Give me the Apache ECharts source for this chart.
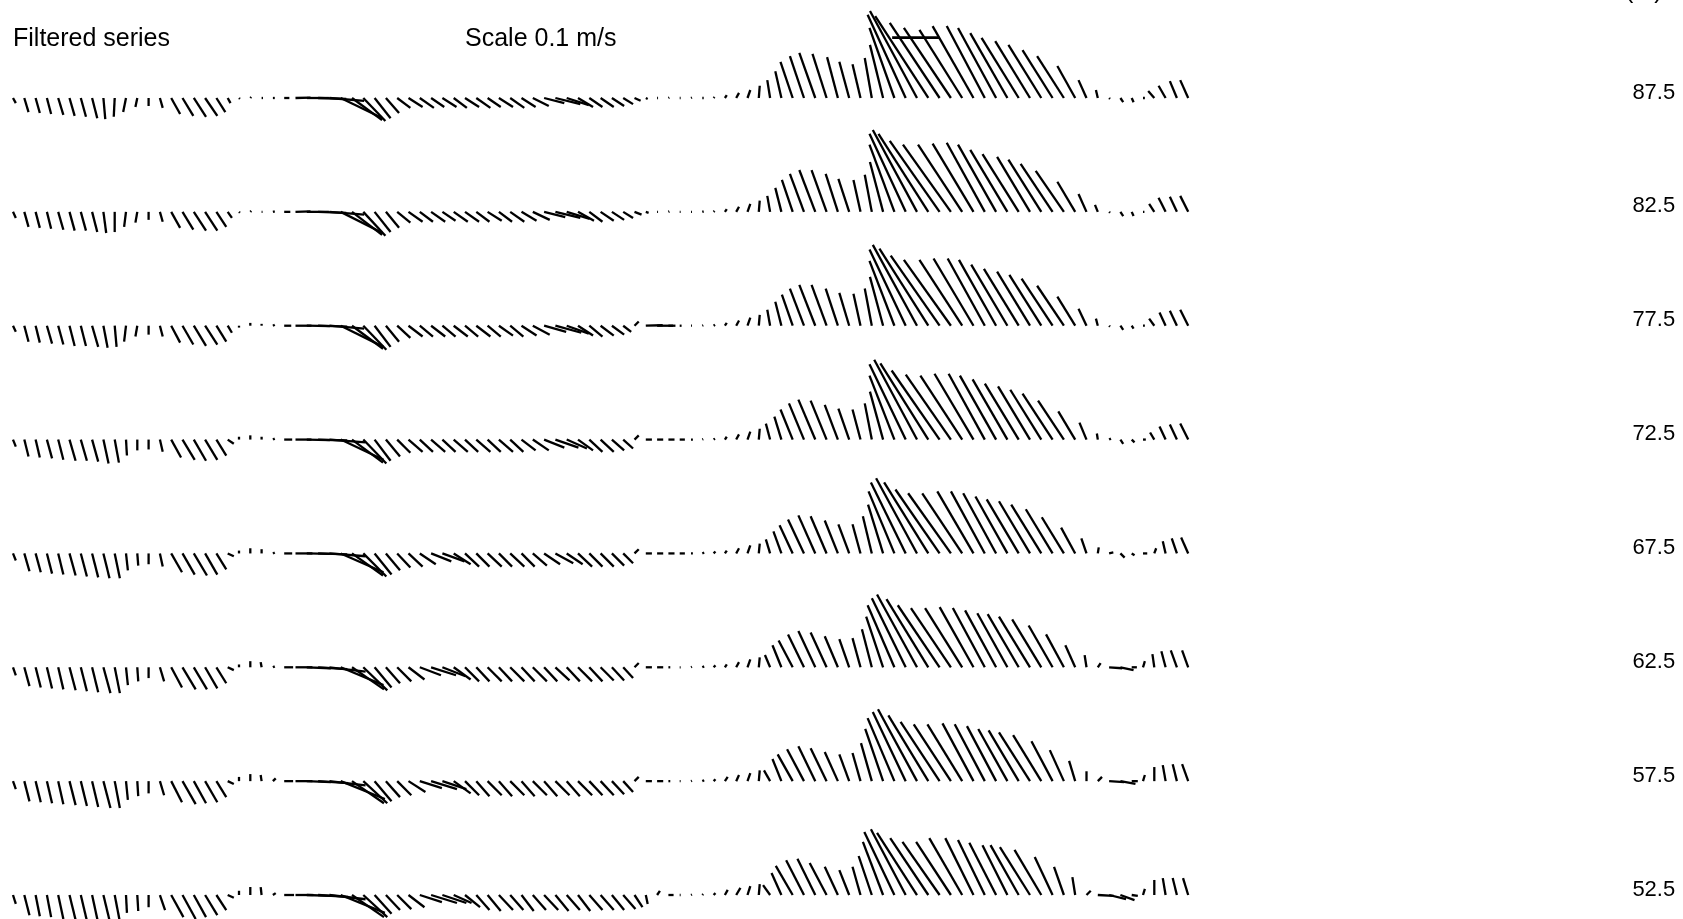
<!DOCTYPE html>
<html>
<head>
<meta charset="utf-8">
<script src="https://cdn.jsdelivr.net/npm/echarts@6/dist/echarts.min.js"></script>
<style>html,body{margin:0;padding:0;background:#fff}#c{width:1683px;height:919px}</style>
</head>
<body>
<div id="c"></div>
<script>
// Depth of each row (m) - tick labels on the right
const depthLabels = [87.5, 82.5, 77.5, 72.5, 67.5, 62.5, 57.5, 52.5];

// Filtered velocity vectors per depth: [east, north] in cm/s, one per sample
const vel875 = [
[0.6,-1.1],[0.9,-3.0],[0.9,-3.2],[0.9,-3.4],[1.1,-3.6],[1.1,-3.8],[1.1,-4.0],[1.1,-4.3],[0.4,-4.5],[-0.2,-4.0],
[-0.6,-3.0],[-0.4,-1.9],[0.0,-1.7],[0.6,-2.1],[1.9,-3.4],[2.3,-3.8],[2.6,-4.0],[2.6,-3.8],[1.9,-3.0],[0.6,-1.1],
[0.2,-0.2],[0.2,0.2],[0.3,0.0],[0.4,0.0],[1.1,0.0],[3.2,0.1],[4.7,0.0],[6.0,-0.2],[7.4,-0.6],[8.9,-4.3],
[6.4,-4.7],[4.7,-4.9],[3.4,-4.3],[2.8,-3.2],[2.8,-2.1],[3.0,-1.9],[3.0,-2.1],[2.8,-1.9],[3.0,-1.9],[2.8,-2.1],
[3.0,-1.9],[3.0,-2.1],[2.8,-1.9],[3.0,-1.9],[3.0,-2.1],[3.0,-1.9],[3.4,-1.7],[4.3,-1.1],[5.3,-1.3],[4.7,-1.5],
[3.2,-1.9],[2.8,-1.9],[2.8,-1.9],[2.6,-1.7],[2.1,-1.3],[1.3,-0.6],[0.4,-0.2],[0.2,0.0],[0.2,0.1],[0.2,0.0],
[0.2,0.1],[0.3,0.0],[0.2,0.2],[0.4,0.6],[0.6,1.1],[0.6,1.7],[0.2,2.6],[-0.6,3.8],[-1.3,5.7],[-2.6,7.7],
[-3.0,8.9],[-3.4,9.6],[-3.0,9.4],[-2.3,8.7],[-2.1,7.7],[-1.7,7.2],[-1.5,8.5],[-2.8,11.3],[-5.3,14.9],[-8.1,17.7],
[-10.0,18.5],[-11.3,17.4],[-10.6,16.0],[-10.0,14.9],[-9.1,14.5],[-8.7,15.3],[-8.1,15.3],[-8.1,14.9],[-7.9,13.8],[-7.9,12.8],
[-7.4,12.1],[-7.0,11.3],[-6.4,10.2],[-5.7,8.9],[-3.8,6.8],[-1.7,3.8],[-0.4,1.7],[0.2,-0.2],[0.6,-0.9],[0.4,-0.9],
[0.4,0.0],[-1.3,1.5],[-1.5,2.6],[-1.5,3.6],[-1.7,3.8]
];
const vel825 = [
[0.6,-1.3],[0.9,-3.2],[0.9,-3.4],[0.9,-3.6],[1.1,-3.8],[1.1,-4.0],[1.1,-4.0],[1.1,-4.3],[0.6,-4.5],[0.0,-4.3],
[-0.4,-3.2],[-0.4,-2.3],[0.0,-1.7],[0.6,-2.1],[1.9,-3.4],[2.3,-3.8],[2.6,-4.0],[2.6,-4.0],[2.1,-3.2],[0.9,-1.3],
[0.2,-0.2],[0.2,0.2],[0.2,0.0],[0.4,0.1],[1.3,0.0],[3.2,0.1],[4.7,0.0],[6.0,-0.2],[7.4,-0.6],[8.9,-4.5],
[6.4,-4.9],[4.7,-5.1],[3.4,-4.3],[2.8,-3.4],[2.8,-2.3],[3.0,-2.1],[2.8,-2.1],[3.0,-2.1],[2.8,-1.9],[3.0,-2.1],
[3.0,-2.1],[2.8,-2.1],[3.0,-1.9],[2.8,-2.1],[3.0,-2.1],[3.2,-1.9],[3.6,-1.7],[4.5,-1.1],[5.3,-1.3],[4.9,-1.5],
[3.4,-1.9],[2.8,-2.1],[2.8,-1.9],[2.6,-1.7],[2.1,-1.3],[1.5,-0.6],[0.6,-0.2],[0.2,0.0],[0.2,0.1],[0.2,0.0],
[0.2,0.0],[0.3,0.1],[0.2,0.2],[0.4,0.6],[0.6,1.1],[0.6,1.7],[0.2,2.4],[-0.6,3.4],[-1.3,5.1],[-2.3,6.8],
[-3.0,8.1],[-3.4,8.9],[-3.2,8.9],[-2.6,8.1],[-2.3,7.0],[-1.5,6.8],[-1.5,7.9],[-2.8,10.6],[-5.3,14.3],[-7.7,16.6],
[-9.4,17.4],[-10.6,16.6],[-10.6,15.1],[-10.2,14.3],[-9.4,14.3],[-8.7,14.5],[-8.1,14.7],[-8.1,14.3],[-7.9,13.2],[-7.7,12.3],
[-7.0,11.7],[-7.0,11.1],[-6.8,10.2],[-6.0,8.7],[-3.8,6.4],[-1.7,3.8],[-0.6,1.5],[0.2,-0.2],[0.6,-0.9],[0.4,-0.9],
[0.3,0.0],[-1.1,1.7],[-1.5,3.0],[-1.5,3.2],[-1.7,3.4]
];
const vel775 = [
[0.6,-1.3],[0.9,-3.4],[0.9,-3.6],[1.1,-3.8],[1.1,-4.0],[1.1,-4.3],[1.1,-4.3],[1.3,-4.5],[0.9,-4.7],[0.4,-4.5],
[-0.4,-3.4],[-0.4,-2.3],[0.0,-1.9],[0.6,-2.3],[1.9,-3.6],[2.3,-4.0],[2.6,-4.3],[2.6,-4.0],[2.1,-3.4],[0.9,-1.5],
[0.0,-0.4],[0.0,0.6],[0.0,0.4],[0.4,0.2],[1.5,0.0],[3.4,0.0],[4.9,-0.1],[6.2,-0.2],[7.4,-0.6],[9.1,-4.5],
[6.6,-4.9],[4.9,-5.1],[3.4,-4.5],[2.8,-3.4],[2.8,-2.6],[3.0,-2.3],[2.8,-2.3],[3.0,-2.3],[2.8,-2.3],[3.0,-2.3],
[2.8,-2.3],[3.0,-2.3],[2.8,-2.3],[3.0,-2.1],[2.8,-2.3],[3.2,-2.1],[3.6,-1.9],[4.7,-1.3],[5.5,-1.5],[4.7,-1.7],
[3.2,-2.1],[2.8,-2.3],[2.8,-2.1],[2.6,-1.9],[1.7,-1.3],[0.9,0.9],[3.6,0.1],[3.4,0.0],[1.5,0.0],[0.4,0.0],
[0.2,0.0],[0.2,0.1],[0.3,0.2],[0.4,0.6],[0.6,1.1],[0.6,1.7],[0.2,2.3],[-0.6,3.4],[-1.3,5.1],[-2.3,6.6],
[-3.0,7.9],[-3.4,8.7],[-3.2,8.7],[-2.6,7.9],[-2.1,7.0],[-1.5,6.8],[-1.5,7.9],[-2.8,10.4],[-5.3,13.8],[-7.7,16.2],
[-9.4,17.2],[-10.4,16.4],[-10.4,14.9],[-10.0,14.0],[-9.1,14.0],[-8.5,14.3],[-7.9,14.3],[-7.9,14.0],[-7.7,13.0],[-7.4,12.1],
[-7.0,11.5],[-6.8,10.8],[-6.6,10.0],[-5.7,8.5],[-3.8,6.2],[-1.7,3.6],[-0.4,1.5],[0.2,-0.2],[0.6,-0.9],[0.4,-0.6],
[0.4,0.0],[-1.1,1.5],[-1.3,2.8],[-1.5,3.2],[-1.7,3.4]
];
const vel725 = [
[0.6,-1.5],[0.9,-3.6],[0.9,-3.8],[1.1,-4.0],[1.1,-4.3],[1.3,-4.5],[1.3,-4.5],[1.3,-4.7],[1.1,-5.1],[0.9,-4.9],
[0.2,-3.4],[0.0,-2.3],[0.0,-2.1],[0.6,-2.6],[2.1,-3.8],[2.6,-4.3],[2.6,-4.5],[2.6,-4.3],[2.1,-3.4],[1.3,-0.9],
[0.0,0.6],[0.0,0.9],[0.0,0.6],[0.4,0.2],[1.7,0.0],[3.4,0.0],[4.9,-0.1],[6.2,-0.2],[7.7,-0.6],[9.1,-4.3],
[6.6,-4.9],[4.9,-5.1],[3.4,-4.5],[3.0,-3.6],[2.8,-2.8],[3.0,-2.6],[2.8,-2.6],[3.0,-2.6],[2.8,-2.6],[3.0,-2.6],
[2.8,-2.6],[3.0,-2.6],[2.8,-2.6],[3.0,-2.6],[2.8,-2.6],[3.0,-2.3],[3.4,-2.3],[4.3,-1.7],[4.9,-1.7],[4.3,-1.9],
[3.2,-2.3],[2.8,-2.6],[2.8,-2.6],[2.6,-2.3],[2.1,-1.9],[0.9,0.9],[1.3,0.0],[1.3,0.0],[1.3,0.0],[1.1,0.0],
[0.4,0.0],[0.2,0.1],[0.3,0.2],[0.4,0.6],[0.6,1.1],[0.6,1.7],[0.2,2.3],[-0.9,3.4],[-1.5,4.9],[-2.6,6.4],
[-3.2,7.7],[-3.6,8.5],[-3.4,8.3],[-2.8,7.4],[-2.3,6.6],[-1.7,6.4],[-1.5,7.7],[-2.8,10.2],[-5.3,13.6],[-7.7,16.0],
[-9.1,17.0],[-10.2,16.2],[-10.2,14.7],[-9.6,13.8],[-8.9,13.6],[-8.3,14.0],[-7.7,14.0],[-7.7,13.6],[-7.4,12.8],[-7.2,11.9],
[-6.8,11.3],[-6.6,10.6],[-6.4,9.8],[-5.5,8.3],[-3.6,6.0],[-1.5,3.6],[-0.2,1.3],[0.4,0.2],[0.6,-0.9],[0.6,-0.6],
[0.6,0.0],[-0.9,1.5],[-1.3,2.8],[-1.5,3.2],[-1.7,3.4]
];
const vel675 = [
[0.6,-1.5],[1.1,-3.8],[1.1,-4.0],[1.1,-4.3],[1.1,-4.5],[1.3,-4.7],[1.3,-4.9],[1.3,-5.1],[1.3,-5.3],[1.1,-5.3],
[0.4,-3.6],[0.2,-2.6],[0.0,-2.3],[0.6,-2.8],[2.3,-4.0],[2.6,-4.5],[2.8,-4.7],[2.6,-4.5],[2.1,-3.4],[1.3,-0.6],
[0.0,0.6],[0.0,1.1],[0.0,0.9],[0.4,0.2],[1.7,0.0],[3.6,0.0],[4.9,-0.1],[6.2,-0.2],[7.7,-0.6],[9.1,-4.0],
[6.6,-4.7],[4.9,-4.9],[3.6,-4.5],[3.0,-3.6],[2.8,-3.0],[3.0,-2.8],[3.4,-2.3],[4.3,-1.7],[4.7,-1.7],[3.6,-2.3],
[3.0,-2.8],[2.8,-2.8],[3.0,-2.8],[2.8,-2.8],[3.0,-2.8],[2.8,-2.8],[3.0,-2.6],[3.4,-2.3],[3.8,-2.1],[3.4,-2.3],
[3.0,-2.8],[2.8,-2.8],[2.8,-2.8],[2.6,-2.6],[2.1,-2.1],[0.9,0.9],[1.3,0.0],[1.3,0.0],[1.3,0.0],[1.1,0.0],
[0.4,0.0],[0.4,0.2],[0.4,0.4],[0.4,0.6],[0.6,1.1],[0.6,1.7],[0.2,2.1],[-0.9,3.0],[-1.7,4.7],[-2.8,6.0],
[-3.4,7.2],[-3.6,8.1],[-3.4,7.9],[-2.8,7.0],[-2.3,6.2],[-1.7,6.2],[-1.9,7.9],[-3.2,10.4],[-5.5,13.2],[-7.4,15.1],
[-8.7,16.0],[-9.4,15.1],[-9.4,13.6],[-9.1,12.8],[-8.5,12.8],[-7.7,13.2],[-7.2,13.2],[-7.0,12.8],[-6.8,12.1],[-6.8,11.5],
[-6.6,11.1],[-6.4,10.4],[-5.7,9.4],[-4.7,7.7],[-3.0,5.5],[-1.1,3.2],[0.2,1.3],[0.9,0.2],[0.9,-0.9],[0.6,-0.4],
[0.9,0.0],[0.4,1.1],[-0.6,2.6],[-1.1,3.2],[-1.5,3.4]
];
const vel625 = [
[0.6,-1.7],[1.1,-4.0],[1.1,-4.3],[1.1,-4.5],[1.1,-4.7],[1.3,-4.9],[1.3,-5.1],[1.3,-5.3],[1.5,-5.5],[1.1,-5.5],
[0.4,-3.8],[0.2,-3.0],[0.0,-2.3],[0.9,-3.0],[2.3,-4.3],[2.8,-4.7],[2.8,-4.7],[2.6,-4.5],[2.1,-3.4],[1.3,-0.6],
[0.0,0.6],[0.0,1.3],[-0.2,1.1],[0.4,0.2],[1.9,0.0],[3.6,0.0],[5.1,-0.2],[6.2,-0.4],[7.7,-0.9],[9.1,-3.8],
[6.8,-4.7],[5.1,-4.9],[3.6,-4.3],[3.0,-3.4],[3.0,-3.0],[3.4,-2.6],[4.5,-1.7],[5.3,-1.7],[4.9,-1.9],[3.6,-2.6],
[3.0,-3.0],[2.8,-3.0],[3.0,-3.0],[2.8,-3.0],[3.0,-3.0],[2.8,-3.0],[3.0,-3.0],[2.8,-3.0],[3.0,-2.8],[2.8,-3.0],
[3.0,-3.0],[2.8,-3.0],[2.8,-2.8],[2.6,-2.8],[2.1,-2.3],[0.9,0.9],[1.3,0.0],[1.3,0.0],[0.4,0.0],[0.2,0.0],
[0.2,0.1],[0.4,0.2],[0.4,0.4],[0.4,0.6],[0.6,1.1],[0.6,1.7],[0.2,2.1],[-1.1,2.6],[-1.9,4.7],[-3.0,5.7],
[-3.4,7.0],[-3.6,7.7],[-3.4,7.4],[-2.8,6.6],[-2.1,6.0],[-1.7,6.2],[-2.1,8.1],[-3.6,10.8],[-5.7,13.2],[-7.2,14.7],
[-8.5,15.5],[-8.9,14.5],[-8.9,13.2],[-8.5,12.6],[-7.9,12.6],[-7.2,12.8],[-6.8,12.6],[-6.6,12.1],[-6.4,11.5],[-6.6,11.3],
[-6.6,10.8],[-6.2,10.2],[-5.1,8.9],[-3.8,7.0],[-2.1,4.7],[-0.4,2.6],[0.6,0.9],[2.8,-0.2],[2.8,-0.6],[1.1,0.0],
[0.4,1.3],[-0.4,2.8],[-0.9,3.4],[-1.3,3.6],[-1.3,3.6]
];
const vel575 = [
[0.6,-1.7],[1.1,-4.3],[1.1,-4.5],[1.1,-4.7],[1.1,-4.9],[1.3,-5.1],[1.3,-5.3],[1.3,-5.5],[1.5,-5.7],[1.1,-5.7],
[0.4,-4.0],[0.2,-3.2],[0.0,-2.6],[0.9,-3.0],[2.3,-4.5],[2.8,-4.9],[2.6,-4.7],[2.6,-4.5],[2.1,-3.4],[1.3,-0.6],
[0.0,0.9],[0.0,1.5],[-0.2,1.3],[0.6,0.6],[1.9,0.0],[3.6,0.0],[5.1,-0.2],[6.4,-0.4],[7.7,-0.9],[9.4,-3.8],
[6.8,-4.7],[5.1,-4.7],[3.6,-4.3],[3.0,-3.4],[3.0,-3.0],[3.6,-2.3],[4.7,-1.5],[5.5,-1.7],[5.1,-1.7],[3.6,-2.6],
[3.0,-3.0],[2.8,-3.2],[3.0,-3.0],[2.8,-3.2],[3.0,-3.0],[2.8,-3.2],[3.0,-3.0],[2.8,-3.2],[3.0,-3.0],[2.8,-3.2],
[3.0,-3.0],[2.8,-3.0],[2.8,-3.0],[2.6,-2.8],[2.1,-2.3],[0.9,0.9],[1.3,0.0],[1.3,0.0],[0.4,0.0],[0.2,0.0],
[0.2,0.1],[0.4,0.2],[0.4,0.4],[0.6,0.9],[0.6,1.3],[0.6,1.7],[0.2,2.3],[-1.3,2.3],[-1.9,4.7],[-3.2,5.7],
[-3.6,6.8],[-3.6,7.4],[-3.4,7.0],[-2.8,6.2],[-2.1,5.7],[-1.7,6.0],[-2.3,8.1],[-3.8,11.1],[-5.7,13.4],[-7.0,14.7],
[-8.3,15.3],[-8.5,14.0],[-8.3,12.6],[-7.9,12.1],[-7.4,12.1],[-6.6,12.3],[-6.4,12.1],[-6.2,11.7],[-6.2,11.1],[-6.4,10.8],
[-6.6,10.4],[-6.0,9.8],[-4.5,8.5],[-3.0,6.6],[-1.3,4.3],[0.0,2.1],[0.9,0.9],[3.2,-0.2],[3.2,-0.6],[1.3,0.0],
[0.4,1.3],[0.0,3.0],[-0.6,3.4],[-0.9,3.6],[-1.3,3.6]
];
const vel525 = [
[0.6,-1.9],[1.1,-4.3],[0.9,-4.5],[0.9,-4.7],[1.1,-5.1],[1.3,-5.3],[1.3,-5.5],[1.3,-6.0],[1.5,-6.2],[1.1,-5.7],
[0.2,-3.8],[0.2,-3.4],[0.0,-2.6],[1.1,-3.2],[2.6,-4.7],[2.8,-5.1],[2.6,-4.7],[2.6,-4.3],[2.1,-3.2],[1.3,-0.6],
[0.0,0.9],[0.0,1.7],[-0.2,1.7],[0.6,0.4],[2.1,0.0],[3.8,0.0],[5.1,-0.2],[6.4,-0.4],[7.7,-0.9],[9.4,-3.8],
[6.8,-4.7],[5.1,-4.7],[3.6,-4.0],[3.0,-3.2],[3.0,-3.0],[3.4,-2.6],[4.7,-1.5],[5.5,-1.7],[5.1,-1.7],[3.8,-1.7],
[3.2,-2.6],[2.8,-3.2],[2.8,-3.4],[3.0,-3.2],[2.8,-3.2],[2.6,-3.4],[2.8,-3.2],[3.0,-3.2],[2.8,-3.4],[2.8,-3.2],
[2.6,-3.4],[2.8,-3.2],[2.8,-3.2],[2.6,-3.2],[2.6,-3.0],[1.7,-2.6],[0.4,-1.9],[0.6,0.9],[1.1,0.0],[0.2,0.0],
[0.2,0.1],[0.2,0.2],[0.4,0.4],[0.6,1.1],[0.9,1.5],[0.6,1.9],[0.2,2.3],[-1.5,2.1],[-2.1,4.7],[-3.6,6.2],
[-3.8,7.4],[-3.8,7.7],[-3.6,6.8],[-2.8,6.0],[-2.1,5.3],[-1.7,6.0],[-2.8,8.3],[-4.3,11.3],[-6.4,13.4],[-7.4,14.0],
[-8.5,13.2],[-8.1,12.1],[-7.9,11.3],[-7.4,11.3],[-7.0,12.1],[-6.0,12.1],[-5.7,11.7],[-5.7,11.1],[-5.3,10.6],[-6.0,10.6],
[-6.4,10.2],[-5.7,9.6],[-3.8,8.1],[-2.1,6.0],[-0.6,3.8],[0.9,0.9],[3.4,-0.2],[3.6,-0.9],[3.0,-1.1],[1.3,-0.2],
[0.4,1.3],[0.0,3.2],[-0.6,3.6],[-0.9,3.6],[-1.1,3.6]
];
const rows = [vel875, vel825, vel775, vel725, vel675, vel625, vel575, vel525];

// Scale arrow: 0.1 m/s eastward
const scaleVector = [10, 0];          // cm/s
const scaleAnchor = [77.8, 90.15];    // sample, depth (m)

// Vector drawing scale: metres of depth axis per 1 cm/s (keeps sticks isotropic)
const M_PER_CMS = 0.2064;

const stickData = [];
rows.forEach((row, r) => row.forEach((uv, i) => stickData.push([i, depthLabels[r], uv[0], uv[1]])));

const nSamples = vel875.length;
const FONT = '"Liberation Sans", Arial, Helvetica, sans-serif';

function stick(lineWidth) {
  return function (params, api) {
    const p = api.coord([api.value(0), api.value(1)]);
    const k = api.size([0, M_PER_CMS])[1];
    return {
      type: 'line',
      shape: { x1: p[0], y1: p[1], x2: p[0] + api.value(2) * k, y2: p[1] - api.value(3) * k },
      style: { stroke: '#000', lineWidth: lineWidth, lineCap: 'butt' }
    };
  };
}

const chart = echarts.init(document.getElementById('c'), null, { renderer: 'canvas' });
chart.setOption({
  animation: false,
  backgroundColor: '#fff',
  title: [
    { text: 'Filtered series', left: 13, top: 27, padding: 0, textStyle: { fontSize: 25, fontWeight: 'normal', color: '#000', fontFamily: FONT } },
    { text: 'Scale 0.1 m/s', left: 465, top: 27, padding: 0, textStyle: { fontSize: 25, fontWeight: 'normal', color: '#000', fontFamily: FONT } },
    { text: '(m)', left: 1625, top: -21, padding: 0, textStyle: { fontSize: 25, fontWeight: 'normal', color: '#000', fontFamily: FONT } }
  ],
  grid: { left: 13, right: 494.8, top: 63.84, bottom: 12.61, containLabel: false },
  xAxis: { type: 'value', min: 0, max: nSamples - 1, show: false },
  yAxis: {
    type: 'value', min: 52, max: 89, position: 'right',
    axisLine: { show: false }, axisTick: { show: false }, splitLine: { show: false },
    axisLabel: {
      customValues: depthLabels,
      formatter: v => Number(v).toFixed(1),
      margin: 487, align: 'right', fontSize: 22, color: '#000', fontFamily: FONT,
      verticalAlign: 'bottom', lineHeight: 11
    }
  },
  series: [
    { type: 'custom', renderItem: stick(2.3), data: stickData, clip: false, silent: true },
    { type: 'custom', renderItem: stick(2.6), data: [[scaleAnchor[0], scaleAnchor[1], scaleVector[0], scaleVector[1]]], clip: false, silent: true }
  ]
});
</script>
</body>
</html>
